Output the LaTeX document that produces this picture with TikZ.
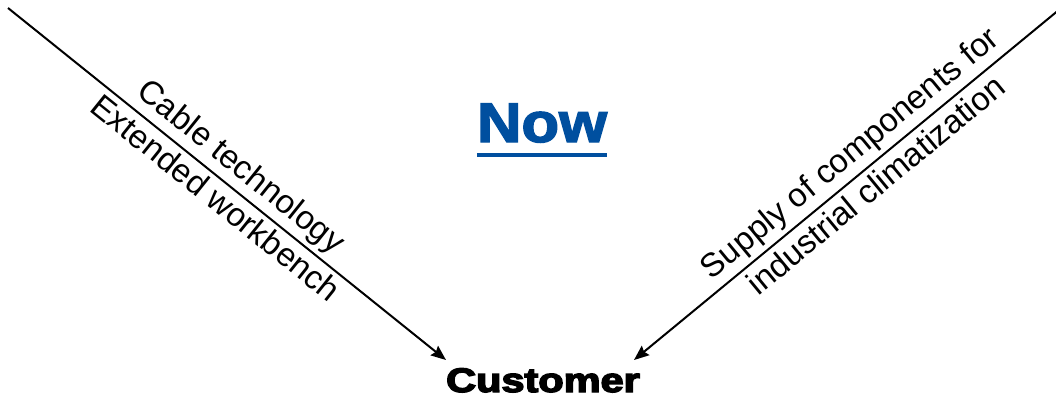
\documentclass[tikz,border=0pt]{standalone}
\usepackage{fontspec}
\setmainfont{Liberation Sans}
\newfontfamily\heavyfont[FakeBold=4]{Liberation Sans Bold}
\newfontfamily\nowfont[FakeBold=2.5]{Liberation Sans Bold}
\usetikzlibrary{arrows.meta}
\definecolor{nowblue}{RGB}{0,79,159}
\begin{document}
\begin{tikzpicture}[x=1pt,y=-1pt,
  conn/.style={line width=2pt,-{Stealth[length=15pt,width=12pt,inset=2pt]}},
  lbl/.style={font=\fontsize{33}{38}\selectfont,sloped},
]
\useasboundingbox (0,0) rectangle (1056,400);
\coordinate (s1) at (8,8);
\coordinate (t1) at (446,360);
\coordinate (s2) at (1060,9);
\coordinate (t2) at (634,360);
\node[font=\heavyfont\fontsize{34}{40}\selectfont, anchor=base, inner sep=0pt] (customer) at (543,392) {\scalebox{1.22}[1]{Customer}};
\node[font=\nowfont\fontsize{56}{60}\selectfont, text=nowblue, anchor=base, inner sep=0pt] (now) at (542,142) {\scalebox{1.1}[1]{Now}};
\draw[nowblue, line width=4pt] ([yshift=-13pt]now.base west) -- ([yshift=-13pt]now.base east);
\draw[conn] (s1) -- (t1);
\draw[conn] (s2) -- (t2);
\path (s1) -- (t1)
  node[lbl, pos=0.5, anchor=south, inner sep=5pt] (l1) {Cable technology}
  node[lbl, pos=0.5, anchor=north, inner sep=5pt] (l2) {Extended workbench};
\path (t2) -- (s2)
  node[lbl, pos=0.54, anchor=south, inner sep=5pt] (r1) {Supply of components for}
  node[lbl, pos=0.54, anchor=north, inner sep=6pt] (r2) {industrial climatization};
\end{tikzpicture}
\end{document}
